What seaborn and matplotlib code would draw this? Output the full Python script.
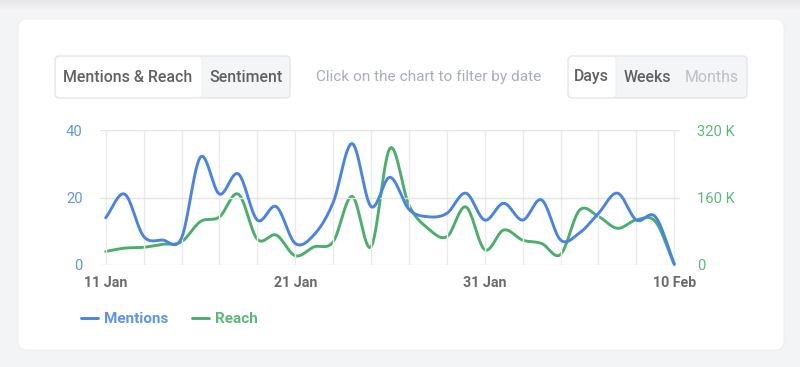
import numpy as np
import pandas as pd
import matplotlib
matplotlib.use("Agg")
import matplotlib.pyplot as plt
from matplotlib.patches import FancyBboxPatch, Rectangle
from matplotlib.lines import Line2D
import seaborn as sns

# data (one point per day, 11 Jan -> 10 Feb)
mentions = [14, 21, 8.5, 7.4, 8, 32, 21, 27, 13.3, 17.3, 6.4,
            9, 18.5, 36, 17.3, 26, 16.5, 14.3, 15.3, 21.3, 13.3,
            18.3, 13.3, 19.3, 7.4, 9.5, 15.3, 21.3, 13.3, 14.3, 0.3]
reach_k = [32, 40, 42, 49, 55, 103, 114, 168, 61, 71, 22,
           43, 55, 163, 43, 277, 142, 87, 67, 138, 36,
           83, 59, 51, 25, 130, 115, 87, 107, 103, 1]
tick_days = [0, 10, 20, 30]
tick_labels = ["11 Jan", "21 Jan", "31 Jan", "10 Feb"]
left_ticks = [0, 20, 40]
right_ticks = [0, 160, 320]

BLUE = "#4a84e0"
GREEN = "#4cae6c"
BLUE_TXT = "#5e95ea"
GREEN_TXT = "#5cb97c"


def smooth(y, n=12):
    # catmull-rom style curve through the points, like the spline in the original
    y = np.asarray(y, dtype=float)
    x = np.arange(len(y))
    m = np.gradient(y)
    xs, ys = [], []
    for i in range(len(y) - 1):
        t = np.linspace(0, 1, n, endpoint=False)
        h00 = 2 * t**3 - 3 * t**2 + 1
        h10 = t**3 - 2 * t**2 + t
        h01 = -2 * t**3 + 3 * t**2
        h11 = t**3 - t**2
        xs.append(x[i] + t)
        ys.append(h00 * y[i] + h10 * m[i] + h01 * y[i + 1] + h11 * m[i + 1])
    xs.append([x[-1]])
    ys.append([y[-1]])
    return np.concatenate(xs), np.concatenate(ys)


sns.set_theme(style="white")
plt.rcParams["font.family"] = ["Roboto", "DejaVu Sans"]

W, H = 800, 367
fig = plt.figure(figsize=(8, 3.67), dpi=100)
fig.patch.set_facecolor("#f3f4f6")

# background layer in pixel coordinates
bg = fig.add_axes([0, 0, 1, 1], zorder=-5)
bg.set_xlim(0, W)
bg.set_ylim(H, 0)
bg.axis("off")
for i in range(10):
    c = 0.905 + i * 0.0052
    bg.add_patch(Rectangle((0, i), W, 1, color=(c, c, c + 0.008), lw=0))
bg.add_patch(FancyBboxPatch((18, 19), 766, 331, boxstyle="round,pad=0,rounding_size=9",
                            fc="white", ec="#eceef1", lw=0.6))

# button groups
def button_group(x0, x1, split):
    bg.add_patch(FancyBboxPatch((x0, 56), x1 - x0, 42, boxstyle="round,pad=0,rounding_size=4",
                                fc="#f4f5f7", ec="#e2e4e8", lw=0.9))
    bg.add_patch(FancyBboxPatch((x0 + 0.7, 56.7), split - x0 - 0.7, 40.6,
                                boxstyle="round,pad=0,rounding_size=3.5", fc="white", ec="#e8eaed", lw=0.5))

button_group(55, 290, 202)
button_group(568, 747, 616)
btn = dict(ha="center", va="center", fontsize=11.4, color="#616161", fontweight="medium")
bg.text(127.5, 77, "Mentions & Reach", **btn)
bg.text(245.5, 77, "Sentiment", **btn)
bg.text(591, 77, "Days", **btn)
bg.text(647, 77, "Weeks", **btn)
bg.text(712, 77, "Months", ha="center", va="center", fontsize=11.4, color="#bcbfc5")
bg.text(428.5, 77, "Click on the chart to filter by date", ha="center", va="center",
        fontsize=11.1, color="#a9aeb8")

# chart axes
ax = fig.add_axes([100 / W, 1 - 265 / H, 580 / W, 135 / H])
ax.patch.set_alpha(0)
ax2 = ax.twinx()

mx, my = smooth(mentions)
rx, ry = smooth(reach_k)
df_m = pd.DataFrame({"day": mx, "value": my})
df_r = pd.DataFrame({"day": rx, "value": ry})

sns.lineplot(data=df_m, x="day", y="value", ax=ax, color=BLUE, lw=2.1, zorder=4, clip_on=False)
sns.lineplot(data=df_r, x="day", y="value", ax=ax2, color=GREEN, lw=2.1, zorder=3, clip_on=False)
ax.set_zorder(ax2.get_zorder() + 1)

ax.set_xlim(-0.3, 30.3)
ax.set_ylim(0, 40)
ax2.set_ylim(0, 320)

for d in range(0, 31, 2):
    ax.axvline(d, color="#ebebeb", lw=1, zorder=0)
for v in left_ticks:
    ax.axhline(v, color="#e4e4e4", lw=1, zorder=0)

ax.set_xticks(tick_days)
ax.set_xticklabels(tick_labels, fontsize=10.3, fontweight="bold", color="#6b6b6b")
ax.set_yticks(left_ticks)
ax.set_yticklabels([str(v) for v in left_ticks], fontsize=10.6, color=BLUE_TXT)
ax2.set_yticks(right_ticks)
ax2.set_yticklabels(["0" if v == 0 else f"{v} K" for v in right_ticks], fontsize=10.6, color=GREEN_TXT)
ax.tick_params(axis="x", length=0, pad=8)
ax.tick_params(axis="y", length=0, pad=12.5)
ax2.tick_params(axis="y", length=0, pad=12.5)
for a in (ax, ax2):
    a.set_xlabel("")
    a.set_ylabel("")
    for s in a.spines.values():
        s.set_visible(False)
    a.grid(False)

handles = [Line2D([], [], color=BLUE, lw=2.1), Line2D([], [], color=GREEN, lw=2.1)]
leg = fig.legend(handles, ["Mentions", "Reach"], loc="center left",
                 bbox_to_anchor=(67 / W, 1 - 319 / H), ncol=2, frameon=False,
                 handlelength=1.1, handletextpad=0.4, columnspacing=1.6,
                 prop={"weight": "bold", "size": 11})
for t, c in zip(leg.get_texts(), [BLUE_TXT, GREEN_TXT]):
    t.set_color(c)

fig.savefig("out.png", dpi=100, facecolor=fig.get_facecolor())
